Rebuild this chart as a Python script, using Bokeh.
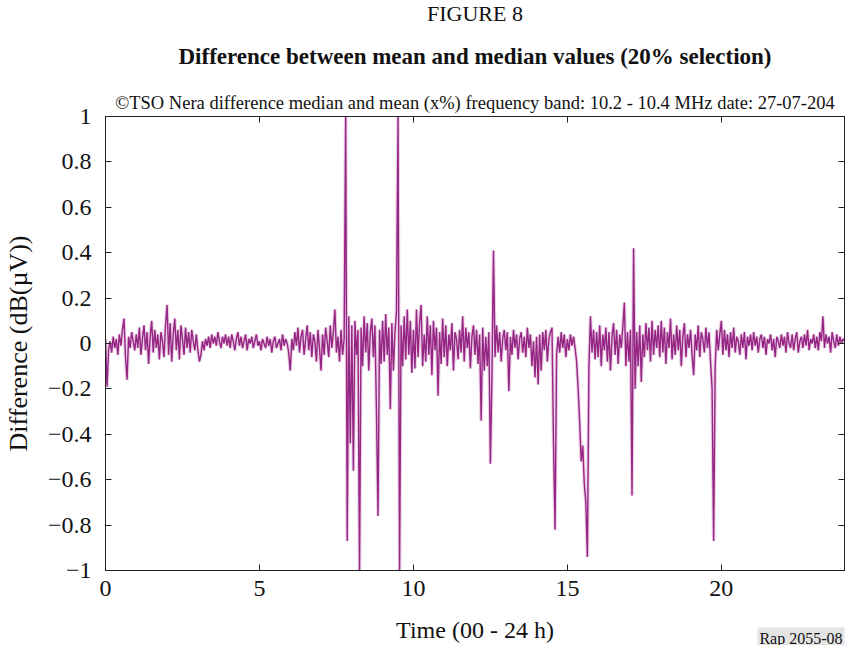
from bokeh.plotting import figure
from bokeh.models import LinearAxis, FixedTicker, CustomJSTickFormatter, Title, ColumnDataSource, Range1d
from bokeh.embed import file_html
from bokeh.resources import INLINE

# ---------------- data ----------------
step_h = 0.05  # sampling step in hours
h00 = [0.02, -0.19, -0.03, 0.01, -0.04, 0.03, -0.02, 0.02, -0.05, 0.04, -0.01, 0.06, 0.11, -0.06, -0.16, 0.03, -0.02, 0.05, 0.01, -0.03]
h01 = [0.04, -0.02, 0.07, -0.05, 0.02, 0.08, -0.03, 0.05, -0.09, 0.03, 0.10, -0.04, 0.06, -0.02, 0.04, -0.07, 0.05, 0.01, -0.06, 0.08]
h02 = [0.17, -0.05, 0.09, -0.08, 0.04, 0.11, -0.03, 0.06, -0.07, 0.08, 0.02, -0.05, 0.07, -0.02, 0.05, -0.04, 0.06, 0.01, -0.03, 0.04]
h03 = [-0.03, -0.08, -0.05, 0.01, -0.03, 0.02, -0.01, 0.03, -0.02, 0.04, 0.00, 0.03, -0.01, 0.05, 0.01, -0.02, 0.03, 0.00, 0.04, -0.01]
h04 = [0.03, -0.02, 0.04, 0.01, -0.03, 0.02, 0.05, -0.01, 0.03, -0.02, 0.01, 0.04, -0.03, 0.02, 0.00, 0.03, -0.02, 0.01, 0.04, -0.01]
h05 = [0.01, -0.03, 0.02, 0.00, -0.02, 0.03, -0.01, 0.02, -0.04, 0.01, 0.03, -0.02, 0.00, 0.02, -0.03, 0.04, -0.01, 0.02, 0.00, -0.04]
h06 = [-0.12, 0.02, -0.03, 0.05, -0.01, 0.07, -0.04, 0.03, 0.06, -0.05, 0.02, 0.08, -0.03, 0.05, -0.06, 0.04, 0.01, -0.08, 0.06, -0.02]
h07 = [-0.12, 0.04, -0.05, 0.07, 0.01, -0.06, 0.08, -0.02, 0.05, 0.15, -0.04, 0.03, -0.08, 0.06, -0.05, 0.02, 1.0, -0.87, 0.12, -0.44]
h08 = [0.08, -0.56, 0.10, -0.05, 0.06, -1.0, 0.07, -0.10, 0.12, -0.04, 0.09, -0.12, 0.05, 0.11, -0.06, 0.08, -0.30, -0.76, 0.06, -0.09]
h09 = [0.10, -0.08, 0.13, -0.05, 0.07, -0.29, 0.09, -0.12, 0.05, 0.14, 1.0, -1.0, 0.08, -0.10, 0.12, -0.07, 0.15, -0.05, 0.10, -0.13]
h10 = [0.06, -0.11, 0.15, -0.06, 0.09, 0.17, -0.10, 0.04, -0.08, 0.12, -0.05, 0.08, -0.14, 0.10, -0.03, 0.07, -0.23, 0.05, -0.09, 0.11]
h11 = [-0.06, 0.08, -0.10, 0.04, -0.03, 0.09, -0.12, 0.05, 0.02, -0.07, 0.06, -0.04, 0.12, -0.08, 0.07, -0.02, 0.05, -0.11, 0.03, 0.08]
h12 = [-0.05, 0.06, -0.09, 0.04, -0.34, 0.07, -0.12, 0.03, -0.10, 0.05, -0.53, -0.15, 0.41, -0.06, 0.08, -0.04, 0.05, -0.08, 0.02, 0.06]
h13 = [-0.03, 0.05, -0.21, 0.03, -0.05, 0.06, -0.02, 0.04, -0.07, 0.02, 0.05, -0.04, 0.03, -0.06, 0.07, -0.02, 0.04, -0.10, 0.01, -0.15]
h14 = [0.03, -0.18, 0.04, -0.12, 0.05, -0.03, 0.06, -0.08, 0.02, 0.05, 0.07, -0.44, -0.82, -0.05, 0.03, -0.04, 0.05, -0.02, 0.04, -0.06]
h15 = [0.02, -0.03, 0.04, -0.01, 0.03, -0.02, -0.08, -0.20, -0.35, -0.52, -0.45, -0.62, -0.70, -0.94, -0.10, 0.12, -0.04, 0.06, -0.07, 0.05]
h16 = [-0.06, 0.08, -0.10, 0.04, -0.03, 0.07, -0.08, 0.05, -0.12, 0.03, 0.09, -0.05, 0.06, -0.09, 0.04, -0.02, 0.07, 0.18, -0.10, 0.05]
h17 = [-0.08, 0.06, -0.67, 0.42, -0.20, 0.05, -0.10, 0.08, -0.17, 0.04, -0.06, 0.09, -0.03, 0.07, -0.08, 0.10, -0.05, 0.06, -0.02, 0.08]
h18 = [-0.06, 0.10, -0.04, 0.07, -0.09, 0.05, -0.02, 0.11, -0.07, 0.04, -0.05, 0.08, -0.03, 0.06, -0.10, 0.03, 0.09, -0.06, 0.04, -0.02]
h19 = [0.06, -0.05, -0.14, 0.04, -0.03, 0.08, -0.06, 0.05, 0.02, -0.04, 0.07, -0.02, 0.05, -0.08, -0.20, -0.87, -0.10, 0.06, -0.03, 0.04]
h20 = [0.10, -0.05, 0.06, -0.03, 0.04, -0.06, 0.05, -0.02, 0.07, -0.04, 0.03, 0.01, -0.05, 0.04, -0.02, 0.05, -0.07, 0.03, -0.01, 0.04]
h21 = [-0.03, 0.05, -0.01, 0.03, -0.04, 0.02, 0.04, -0.02, 0.03, -0.05, 0.02, 0.00, 0.04, -0.03, 0.02, -0.06, 0.03, 0.01, -0.02, 0.04]
h22 = [-0.01, 0.03, -0.04, 0.05, 0.00, -0.02, 0.04, -0.03, 0.02, 0.05, -0.04, 0.01, 0.03, -0.02, 0.04, -0.01, 0.06, -0.03, 0.02, 0.00]
h23 = [0.04, -0.02, 0.03, -0.03, 0.05, 0.01, 0.12, -0.02, 0.04, 0.00, 0.03, -0.04, 0.05, 0.01, -0.02, 0.04, -0.01, 0.03, 0.00, 0.02]
h24 = [0.01]

hours = [h00, h01, h02, h03, h04, h05, h06, h07, h08, h09, h10, h11,
         h12, h13, h14, h15, h16, h17, h18, h19, h20, h21, h22, h23, h24]

x_ticks = [0, 5, 10, 15, 20]
y_ticks = [-1.0, -0.8, -0.6, -0.4, -0.2, 0.0, 0.2, 0.4, 0.6, 0.8, 1.0]

fig_label = "FIGURE 8"
title_text = "Difference between mean and median values (20% selection)"
subtitle_text = "\u00a9TSO Nera difference median and mean (x%) frequency band: 10.2 - 10.4 MHz date: 27-07-204"
x_label = "Time (00 - 24 h)"
y_label = "Difference (dB(\u00b5V))"
ref_text = "Rap 2055-08"

times, diffs = [], []
for hr, vals in enumerate(hours):
    for k, v in enumerate(vals):
        times.append(hr + k * step_h)
        diffs.append(v)
src = ColumnDataSource(dict(t=times, d=diffs))

# ---------------- figure ----------------
FONT = "Liberation Serif"
INK = "#111111"

p = figure(width=845, height=645, x_range=Range1d(0, 24), y_range=Range1d(-1, 1),
           output_backend="svg", toolbar_location=None,
           min_border_left=101, min_border_right=1, min_border_top=0, min_border_bottom=0,
           background_fill_color="white", border_fill_color="white")
p.grid.visible = False
p.outline_line_color = "#222222"
p.outline_line_width = 1

fmt = CustomJSTickFormatter(code="""
    let s;
    if (Math.abs(tick) < 1e-9) s = '0';
    else if (Math.abs(Math.abs(tick) - 1) < 1e-9) s = tick.toFixed(0);
    else s = tick.toFixed(1);
    return s.replace('-', '\\u2212');
""")
blank = CustomJSTickFormatter(code="return '';")

for ax in p.xaxis:
    ax.ticker = FixedTicker(ticks=x_ticks)
    ax.axis_label = x_label
for ax in p.yaxis:
    ax.ticker = FixedTicker(ticks=y_ticks)
    ax.formatter = fmt
    ax.axis_label = y_label

for ax in list(p.xaxis) + list(p.yaxis):
    ax.major_tick_in = 6
    ax.major_tick_out = 0
    ax.minor_tick_in = 0
    ax.minor_tick_out = 0
    ax.axis_line_color = "#222222"
    ax.major_tick_line_color = "#222222"
    ax.major_label_text_font = FONT
    ax.major_label_text_font_size = "24px"
    ax.major_label_text_color = INK
    ax.axis_label_text_font = FONT
    ax.axis_label_text_font_style = "normal"
    ax.axis_label_text_color = INK

p.xaxis.major_label_standoff = 10
p.xaxis.axis_label_text_font_size = "24px"
p.xaxis.axis_label_standoff = 18
p.yaxis.major_label_standoff = 14
p.yaxis.axis_label_text_font_size = "26px"
p.yaxis.axis_label_standoff = 12

# mirrored ticks on top and right (no labels)
for side, ticks in (("above", x_ticks), ("right", y_ticks)):
    ax = LinearAxis(ticker=FixedTicker(ticks=ticks), formatter=blank,
                    major_label_standoff=0, major_tick_in=6, major_tick_out=0,
                    minor_tick_in=0, minor_tick_out=0, axis_line_color="#222222",
                    major_tick_line_color="#222222")
    p.add_layout(ax, side)

# the series: soft halo + core line
p.line("t", "d", source=src, line_color="#dcaad3", line_width=3.6, line_alpha=0.55)
p.line("t", "d", source=src, line_color="#962684", line_width=1.4)

# ---------------- texts (stacked outward from the frame) ----------------
p.add_layout(Title(text=subtitle_text, align="center", text_font=FONT, text_font_size="18.5px",
                   text_font_style="normal", text_color=INK, standoff=8), "above")
p.add_layout(Title(text=title_text, align="center", text_font=FONT, text_font_size="23px",
                   text_font_style="bold", text_color=INK, standoff=35), "above")
p.add_layout(Title(text=fig_label, align="center", text_font=FONT, text_font_size="22px",
                   text_font_style="normal", text_color=INK, standoff=-3,
                   text_line_height=1.0), "above")
p.add_layout(Title(text=ref_text, align="right", vertical_align="top", text_font=FONT,
                   text_font_size="16px", text_font_style="normal", text_color=INK, standoff=-36,
                   text_line_height=1.5,
                   background_fill_color="#e4e4e4", background_fill_alpha=1.0, padding=2), "below")

open("out.html", "w").write(file_html(p, INLINE))
